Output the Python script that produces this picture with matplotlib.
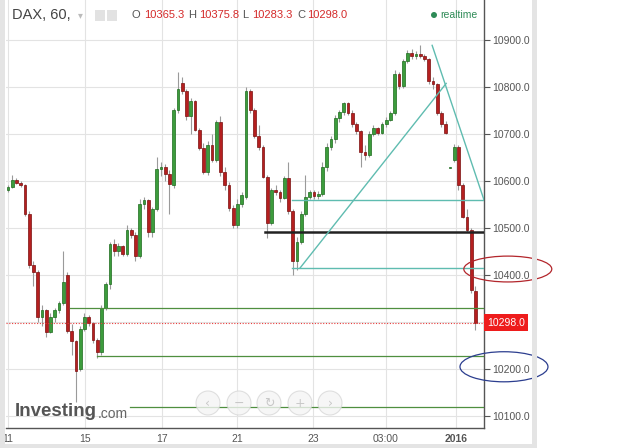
import matplotlib.pyplot as plt
from matplotlib.patches import Rectangle, Ellipse
import matplotlib.transforms as mtransforms

# hourly DAX candles, Dec 11 2015 -> Jan 4 2016
opens = [10580, 10586, 10602, 10596, 10590, 10530, 10420, 10405, 10310, 10325,
         10278, 10310, 10325, 10340, 10400, 10280, 10258, 10200, 10285, 10310,
         10298, 10262, 10235, 10330, 10380, 10465, 10450, 10460, 10445, 10495,
         10485, 10440, 10550, 10558, 10490, 10540, 10625, 10630, 10615, 10590,
         10750, 10808, 10790, 10738, 10770, 10708, 10670, 10618, 10675, 10645,
         10725, 10618, 10590, 10542, 10506, 10550, 10565, 10790, 10750, 10695,
         10672, 10608, 10510, 10580, 10576, 10563, 10605, 10535, 10430, 10470,
         10530, 10565, 10575, 10568, 10572, 10630, 10672, 10688, 10734, 10746,
         10765, 10745, 10720, 10705, 10660, 10655, 10700, 10712, 10702, 10720,
         10730, 10745, 10828, 10802, 10855, 10872, 10865, 10870, 10866, 10860,
         10812, 10805, 10745, 10720, 10628, 10645, 10672, 10590, 10523, 10495,
         10365.3]
highs = [10590, 10612, 10606, 10600, 10592, 10535, 10430, 10410, 10335, 10328,
         10318, 10330, 10345, 10450, 10406, 10295, 10262, 10290, 10318, 10315,
         10300, 10265, 10335, 10385, 10470, 10475, 10468, 10463, 10505, 10500,
         10490, 10560, 10565, 10560, 10545, 10650, 10640, 10635, 10622, 10755,
         10832, 10820, 10795, 10775, 10772, 10712, 10680, 10685, 10700, 10730,
         10738, 10630, 10598, 10548, 10560, 10575, 10800, 10795, 10755, 10718,
         10676, 10612, 10585, 10590, 10580, 10610, 10640, 10540, 10480, 10535,
         10612, 10580, 10580, 10578, 10640, 10680, 10695, 10740, 10750, 10768,
         10768, 10750, 10725, 10708, 10675, 10705, 10718, 10715, 10725, 10735,
         10748, 10835, 10832, 10860, 10878, 10880, 10875, 10888, 10870, 10862,
         10820, 10808, 10748, 10728, 10630, 10678, 10675, 10595, 10540, 10500,
         10375.8]
lows = [10575, 10584, 10592, 10586, 10525, 10415, 10375, 10300, 10290, 10268,
        10275, 10300, 10318, 10335, 10275, 10230, 10130, 10195, 10280, 10290,
        10255, 10222, 10230, 10325, 10370, 10440, 10440, 10440, 10440, 10478,
        10430, 10435, 10540, 10480, 10480, 10535, 10610, 10600, 10530, 10585,
        10745, 10785, 10730, 10700, 10705, 10665, 10615, 10612, 10640, 10640,
        10610, 10580, 10535, 10500, 10500, 10545, 10560, 10745, 10690, 10665,
        10605, 10478, 10505, 10570, 10555, 10560, 10530, 10400, 10410, 10465,
        10525, 10560, 10562, 10560, 10568, 10620, 10665, 10680, 10725, 10740,
        10740, 10715, 10700, 10630, 10645, 10650, 10695, 10698, 10700, 10715,
        10728, 10740, 10795, 10798, 10850, 10860, 10858, 10862, 10855, 10805,
        10795, 10740, 10715, 10700, 10626, 10640, 10580, 10520, 10490, 10360,
        10283.3]
closes = [10586, 10602, 10596, 10590, 10530, 10420, 10405, 10310, 10325, 10278,
          10310, 10325, 10340, 10385, 10280, 10258, 10195, 10285, 10310, 10298,
          10262, 10235, 10330, 10380, 10465, 10450, 10460, 10445, 10495, 10485,
          10440, 10550, 10558, 10490, 10540, 10625, 10630, 10615, 10592, 10750,
          10795, 10790, 10738, 10770, 10708, 10670, 10618, 10675, 10645, 10725,
          10618, 10590, 10542, 10506, 10550, 10570, 10790, 10750, 10695, 10672,
          10608, 10510, 10580, 10576, 10563, 10605, 10535, 10430, 10470, 10530,
          10565, 10575, 10568, 10572, 10630, 10672, 10688, 10734, 10746, 10765,
          10745, 10720, 10705, 10660, 10655, 10700, 10712, 10702, 10720, 10730,
          10745, 10828, 10802, 10855, 10872, 10865, 10870, 10866, 10860, 10812,
          10805, 10745, 10720, 10702, 10630, 10672, 10590, 10523, 10495, 10367,
          10298.0]

date_pos = [0, 18.1, 36.2, 53.9, 71.8, 88.9, 105.4]
date_labels = ["11", "15", "17", "21", "23", "03:00", "2016"]
price_ticks = [10100, 10200, 10400, 10500, 10600, 10700, 10800, 10900]
grid_prices = [10100, 10200, 10300, 10400, 10500, 10600, 10700, 10800, 10900]

# drawn levels: (price, start index)
green_levels = [(10329, 14.6), (10226, 20.9), (10118, 28.7)]
black_level = (10491, 60.5)
teal_levels = [(10414, 66.8), (10559, 66.8)]
teal_up = ([68.7, 103.1], [10414, 10807])
teal_down = ([99.8, 112], [10888, 10559])
last_price = 10298.0

plt.rcParams['font.family'] = ['Liberation Sans', 'DejaVu Sans']

W, H = 635, 448
fig = plt.figure(figsize=(W / 100, H / 100), dpi=100)
ax = fig.add_axes([6 / W, 20 / H, 478 / W, 428 / H])
xmin, xmax = -0.47, 112
ax.set_xlim(xmin, xmax)
ax.set_ylim(10073.7, 10984.5)

for p in grid_prices:
    ax.axhline(p, color="#e3e3e3", lw=0.8, zorder=0)
for d in date_pos:
    ax.axvline(d, color="#e3e3e3", lw=0.8, zorder=0)

for i in range(len(opens)):
    o, hi, lo, c = opens[i], highs[i], lows[i], closes[i]
    ax.vlines(i, lo, hi, color="#9a9a9a", lw=0.8, zorder=2)
    if c >= o:
        fc, ec = "#3c9c3c", "#1d6a1d"
    else:
        fc, ec = "#b51f1f", "#7a0f0f"
    ax.add_patch(Rectangle((i - 0.34, min(o, c)), 0.68, max(abs(c - o), 1.5),
                           facecolor=fc, edgecolor=ec, lw=0.5, zorder=3))

for p, s in green_levels:
    ax.plot([s, xmax], [p, p], color="#4f8f3f", lw=0.9, zorder=4)
ax.plot([black_level[1], xmax], [black_level[0]] * 2, color="#222222", lw=1.8, zorder=4)
for p, s in teal_levels:
    ax.plot([s, xmax], [p, p], color="#5fbcb0", lw=1.0, zorder=4)
ax.plot(teal_up[0], teal_up[1], color="#5fbcb0", lw=1.0, zorder=4)
ax.plot(teal_down[0], teal_down[1], color="#5fbcb0", lw=1.0, zorder=4)
ax.axhline(last_price, color="#e83a3a", lw=0.8, ls=(0, (1, 1.5)), zorder=4)

# circled levels
ax.add_patch(Ellipse((117.6, 10412), 20.7, 55, fill=False, edgecolor="#b3262c",
                     lw=0.9, clip_on=False, zorder=6))
ax.add_patch(Ellipse((116.7, 10204), 20.7, 64, fill=False, edgecolor="#2c3e8f",
                     lw=0.9, clip_on=False, zorder=6))

ax.yaxis.tick_right()
ax.set_yticks(price_ticks)
ax.set_yticklabels(["%.1f" % p for p in price_ticks])
ax.tick_params(axis="y", direction="out", length=4, width=0.8, color="#555555",
               labelsize=7.5, labelcolor="#555555", pad=2)
ax.set_xticks(date_pos)
ax.set_xticklabels(date_labels)
ax.tick_params(axis="x", length=0, labelsize=7.5, labelcolor="#555555", pad=4)
ax.get_xticklabels()[-1].set_fontweight("bold")
for s in ["top", "left"]:
    ax.spines[s].set_visible(False)
for s in ["right", "bottom"]:
    ax.spines[s].set_color("#555555")
    ax.spines[s].set_linewidth(1.0)

trans = mtransforms.blended_transform_factory(ax.transAxes, ax.transData)
ax.text(1.006, last_price, "%.1f" % last_price, transform=trans, color="white",
        fontsize=7.5, va="center", ha="left",
        bbox=dict(boxstyle="square,pad=0.3", facecolor="#ee1c1c", edgecolor="none"))

# container borders
fig.add_artist(Rectangle((0, 0), 5 / W, 1, transform=fig.transFigure,
                         facecolor="#e4e4e4", edgecolor="none"))
fig.add_artist(Rectangle((532 / W, 0), 5 / W, 1, transform=fig.transFigure,
                         facecolor="#e4e4e4", edgecolor="none"))
fig.add_artist(Rectangle((0, 0), 537 / W, 4 / H, transform=fig.transFigure,
                         facecolor="#e4e4e4", edgecolor="none"))

# header
ty = 1 - 15 / H
fig.text(12 / W, ty, "DAX, 60,", fontsize=10.5, color="#444444", va="center")
fig.text(78 / W, ty, "\u25be", fontsize=7, color="#bbbbbb", va="center",
         family="DejaVu Sans")
for x0 in [95, 107]:
    fig.add_artist(Rectangle((x0 / W, 1 - 21 / H), 10 / W, 11 / H,
                             transform=fig.transFigure, facecolor="#e2e2e2",
                             edgecolor="none"))
hdr = [(132, "O", "#555555"), (144, "10365.3", "#d42a2a"),
       (188, "H", "#555555"), (199, "10375.8", "#d42a2a"),
       (242, "L", "#555555"), (252, "10283.3", "#d42a2a"),
       (297, "C", "#555555"), (307, "10298.0", "#d42a2a")]
for x0, t, col in hdr:
    fig.text(x0 / W, ty, t, fontsize=8, color=col, va="center")
fig.add_artist(Ellipse((434 / W, ty), 6 / W, 6 / H, transform=fig.transFigure,
                       facecolor="#2e8b57", edgecolor="none"))
fig.text(440 / W, ty, "realtime", fontsize=7.5, color="#2e8b57", va="center")

# logo
fig.text(15 / W, 1 - 412 / H, "Investing", fontsize=13.5, fontweight="bold",
         color="#555555", va="center")
fig.text(98 / W, 1 - 414 / H, ".com", fontsize=10, color="#666666", va="center")

# navigation buttons
for x0, sym in zip([208, 239, 269, 300, 330], ["\u2039", "\u2212", "\u21bb", "+", "\u203a"]):
    fig.add_artist(Ellipse((x0 / W, 1 - 403 / H), 24 / W, 24 / H,
                           transform=fig.transFigure, facecolor="#f4f4f4",
                           edgecolor="#d8d8d8", lw=0.8, alpha=0.8, zorder=7))
    fig.text(x0 / W, 1 - 403 / H, sym, fontsize=9, color="#c8c8c8",
             ha="center", va="center", zorder=8, family=["DejaVu Sans"])

fig.savefig("out.png", dpi=100)
